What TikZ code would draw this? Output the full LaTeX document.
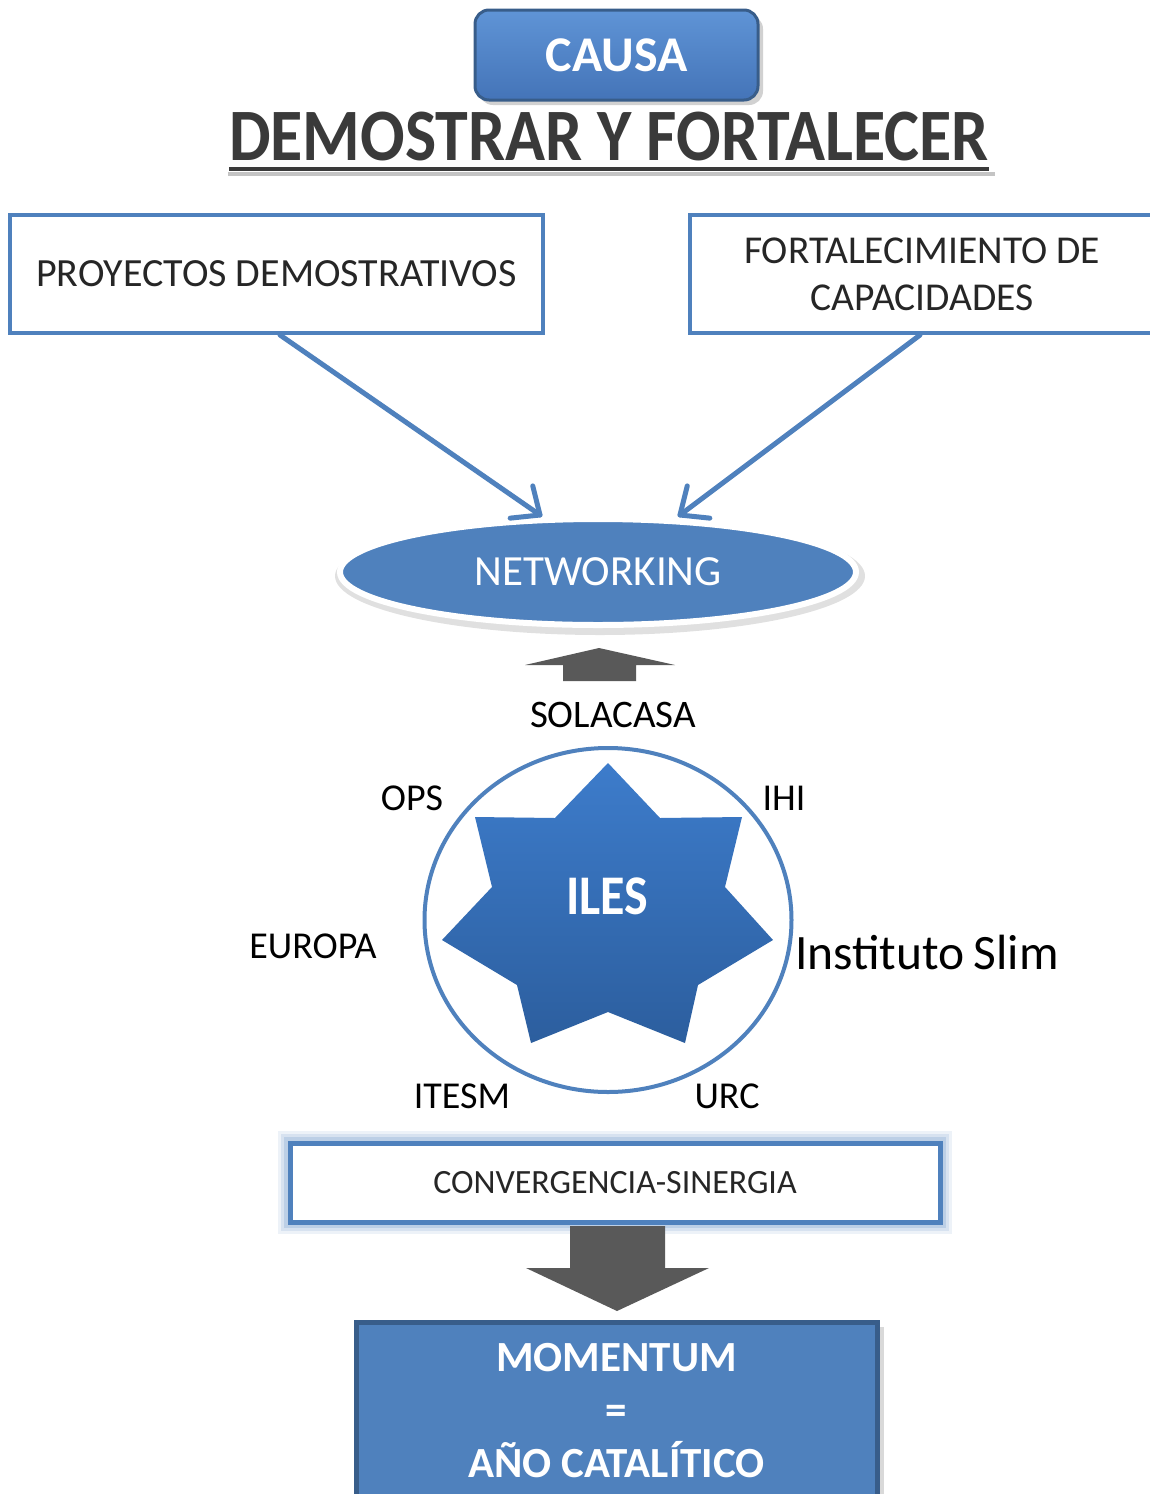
\documentclass[tikz,border=0pt]{standalone}
\usepackage{fontspec}
\setmainfont{Carlito}
\usetikzlibrary{shapes.geometric,calc}
\definecolor{bfill}{HTML}{4F81BD}
\definecolor{bdark}{HTML}{385D8A}
\definecolor{btop}{HTML}{5F94D6}
\definecolor{bbot}{HTML}{4474B8}
\definecolor{stop}{HTML}{3D7CCB}
\definecolor{sbot}{HTML}{2C5E9E}
\definecolor{txtgray}{HTML}{262626}
\definecolor{arrgray}{HTML}{595959}
\definecolor{ttlgray}{HTML}{3A3A3A}
\definecolor{shadowgray}{HTML}{C4C4C4}
\begin{document}
\begin{tikzpicture}[x=1pt,y=-1pt,
  plainbox/.style={draw=bfill, line width=4pt, fill=white, inner sep=0pt, align=center, text=txtgray},
  lbl/.style={font=\fontsize{38}{46}\selectfont, text=black, anchor=base, inner sep=0pt},
  blueline/.style={draw=bfill, line width=5pt, line cap=round, line join=round},
  blockarrow/.style={fill=arrgray, draw=none},
]
\useasboundingbox (0,0) rectangle (1150,1494);
\begin{scope}
\clip (0,0) rectangle (1150,1494);

% CAUSA
\fill[black, opacity=0.18, rounded corners=14pt] (479,15) rectangle (763,105);
\node (causa) [rounded corners=14pt, draw=bdark, line width=3pt, top color=btop, bottom color=bbot,
  minimum width=283pt, minimum height=90pt, inner sep=0pt, text=white,
  font=\bfseries\fontsize{50}{60}\selectfont] at (616.5,55) {\raisebox{-4pt}{CAUSA}};

% Title
\draw[shadowgray, line width=4pt] (228,174) -- (995,174);
\node (title) [anchor=base, inner sep=0pt, text=ttlgray, font=\bfseries\fontsize{66}{78}\selectfont] at (609,160)
  {\scalebox{1}[1.12]{DEMOSTRAR Y FORTALECER}};
\draw[ttlgray, line width=4pt] (title.base west |- 0,169) -- (title.base east |- 0,169);

% Two boxes
\node (proj) [plainbox, minimum width=533pt, minimum height=118pt,
  font=\fontsize{40}{47}\selectfont] at (276.5,274) {PROYECTOS DEMOSTRATIVOS};
\node (fort) [plainbox, minimum width=470pt, minimum height=118pt,
  font=\fontsize{39.5}{47}\selectfont] at (925,274) {\hspace*{-6pt}FORTALECIMIENTO DE\\\hspace*{-6pt}CAPACIDADES};

% NETWORKING
\fill[black, opacity=0.12] (600,576) ellipse [x radius=265pt, y radius=59pt];
\node (net) [ellipse, draw=white, line width=6pt, fill=bfill, minimum width=516pt, minimum height=106pt,
  inner sep=0pt, text=white, font=\fontsize{43}{52}\selectfont] at (598,572) {NETWORKING};

% connectors with open arrowheads
\coordinate (a1) at (540,515);
\coordinate (a2) at (680,515);
\draw[blueline] (proj.south -| 280,0) -- (a1);
\draw[blueline] ($(a1)+(174:30)$) -- (a1) -- ($(a1)+(256:30)$);
\draw[blueline] (fort.south -| 920,0) -- (a2);
\draw[blueline] ($(a2)+(6:30)$) -- (a2) -- ($(a2)+(284:30)$);

% up block arrow
\fill[blockarrow] (563,681) -- (563,665) -- (525,665) -- (599,648) -- (675,665) -- (636,665) -- (636,681) -- cycle;

\node (sol) [lbl, font=\fontsize{39}{47}\selectfont] at (613,727) {SOLACASA};

% circle and star
\node (circ) [ellipse, draw=bfill, line width=4pt, fill=white, minimum width=367pt, minimum height=344pt, inner sep=0pt] at (608,920) {};
\shade[top color=stop, bottom color=sbot]
  (608,763) -- (660,818) -- (742,817) -- (725,887) -- (773,940) -- (698,985) -- (685,1043)
  -- (608,1012) -- (531,1043) -- (517,985) -- (442,940) -- (492,887) -- (475,817) -- (555,818) -- cycle;
\node (iles) [anchor=base, inner sep=0pt, text=white, font=\bfseries\fontsize{50}{60}\selectfont] at (607,914) {\scalebox{1}[1.12]{ILES}};

\node (ops) [lbl] at (412,810) {OPS};
\node (ihi) [lbl] at (784,810) {IHI};
\node (eur) [lbl] at (313,958) {EUROPA};
\node (slim) [lbl, font=\fontsize{49.5}{58}\selectfont] at (927,969) {Instituto\hspace{-2pt} Slim};
\node (itesm) [lbl] at (462,1108) {ITESM};
\node (urc) [lbl] at (727,1108) {URC};

% CONVERGENCIA
\foreach \w/\o in {24/0.10,18/0.14,12/0.2} {
  \draw[bfill, line width=\w pt, opacity=\o] (290,1143) rectangle (940,1222);
}
\node (conv) [plainbox, line width=5pt, minimum width=650pt, minimum height=79pt,
  font=\fontsize{34}{41}\selectfont] at (615,1182.5) {CONVERGENCIA-SINERGIA};

% down block arrow
\fill[blockarrow] (570,1226) -- (665,1226) -- (665,1268) -- (709,1268) -- (617,1311) -- (526,1268) -- (570,1268) -- cycle;

% MOMENTUM
\fill[black, opacity=0.15] (360,1327) rectangle (884,1510);
\node (mom) [draw=bdark, line width=5pt, fill=bfill, minimum width=521pt, minimum height=178pt,
  inner sep=0pt, text=white, align=center, font=\bfseries\fontsize{43}{53}\selectfont] at (616.5,1411) {MOMENTUM\\=\\AÑO CATALÍTICO};
\end{scope}
\end{tikzpicture}
\end{document}
